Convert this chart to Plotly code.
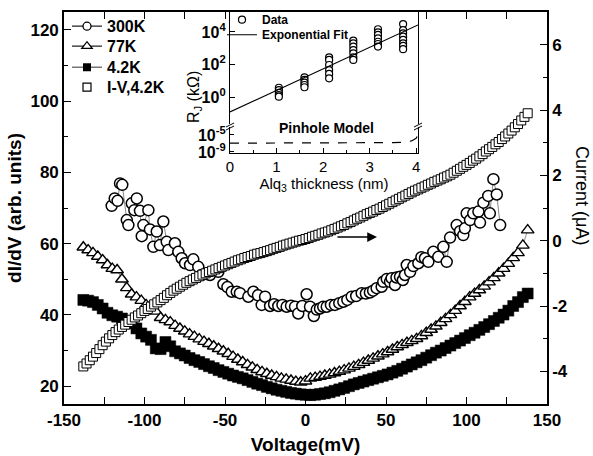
import plotly.graph_objects as go

FONT = "Liberation Sans, Arial, sans-serif"

# ---------------- main data ----------------
voltage = [-138, -135, -132, -129, -126, -123, -120, -117, -114, -111,
           -108, -105, -102, -99, -96, -93, -90, -87, -84, -81,
           -78, -75, -72, -69, -66, -63, -60, -57, -54, -51,
           -48, -45, -42, -39, -36, -33, -30, -27, -24, -21,
           -18, -15, -12, -9, -6, -3, 0, 3, 6, 9,
           12, 15, 18, 21, 24, 27, 30, 33, 36, 39,
           42, 45, 48, 51, 54, 57, 60, 63, 66, 69,
           72, 75, 78, 81, 84, 87, 90, 93, 96, 99,
           102, 105, 108, 111, 114, 117, 120, 123, 126, 129,
           132, 135, 138]

didv_4K = [44.2, 44.0, 43.6, 42.8, 41.8, 40.6, 39.9, 39.5, 39.0, 38.2,
           37.6, 36.2, 34.8, 33.9, 33.0, 30.6, 30.4, 32.4, 31.2, 29.8,
           29.2, 28.6, 27.9, 27.3, 26.8, 26.2, 25.6, 25.1, 24.5, 24.0,
           23.5, 23.0, 22.6, 22.2, 21.7, 21.2, 20.7, 20.3, 19.8, 19.4,
           19.0, 18.7, 18.4, 18.1, 17.9, 17.7, 17.6, 17.5, 17.6, 17.8,
           18.0, 18.3, 18.7, 19.1, 19.5, 20.0, 20.5, 20.9, 21.3, 21.7,
           22.1, 22.5, 22.9, 23.3, 23.8, 24.3, 24.9, 25.5, 26.1, 26.7,
           27.3, 28.0, 28.7, 29.4, 30.0, 30.7, 31.4, 32.1, 32.8, 33.5,
           34.3, 35.0, 35.8, 36.6, 37.4, 38.3, 39.2, 40.1, 41.2, 42.5,
           43.6, 45.0, 46.0]

didv_77K = [59.0, 58.2, 57.4, 56.4, 55.4, 54.0, 53.0, 52.6, 50.0, 47.6,
            45.8, 45.0, 44.0, 42.8, 42.0, 41.0, 39.2, 38.6, 38.0, 37.0,
            36.2, 35.4, 34.6, 33.9, 33.2, 32.5, 31.9, 31.2, 30.5, 29.8,
            29.1, 28.3, 27.5, 26.8, 26.0, 25.3, 24.6, 24.0, 23.5, 23.0,
            22.6, 22.2, 21.9, 21.6, 21.3, 21.1, 21.4, 22.2, 22.4, 22.7,
            23.0, 23.3, 23.7, 24.1, 24.5, 25.0, 25.5, 26.0, 26.6, 27.2,
            27.8, 28.4, 29.0, 29.6, 30.3, 31.0, 31.6, 32.2, 32.7, 33.3,
            34.1, 35.0, 35.9, 36.8, 37.8, 38.9, 40.0, 41.2, 42.5, 43.7,
            45.0, 46.0, 47.0, 48.0, 49.2, 50.4, 51.7, 53.0, 54.4, 56.0,
            57.4, 59.5, 63.8]

voltage_iv = [-138, -136, -134, -132, -130, -128, -126, -124, -122, -120,
              -118, -116, -114, -112, -110, -108, -106, -104, -102, -100,
              -98, -96, -94, -92, -90, -88, -86, -84, -82, -80,
              -78, -76, -74, -72, -70, -68, -66, -64, -62, -60,
              -58, -56, -54, -52, -50, -48, -46, -44, -42, -40,
              -38, -36, -34, -32, -30, -28, -26, -24, -22, -20,
              -18, -16, -14, -12, -10, -8, -6, -4, -2, 0,
              2, 4, 6, 8, 10, 12, 14, 16, 18, 20,
              22, 24, 26, 28, 30, 32, 34, 36, 38, 40,
              42, 44, 46, 48, 50, 52, 54, 56, 58, 60,
              62, 64, 66, 68, 70, 72, 74, 76, 78, 80,
              82, 84, 86, 88, 90, 92, 94, 96, 98, 100,
              102, 104, 106, 108, 110, 112, 114, 116, 118, 120,
              122, 124, 126, 128, 130, 132, 134, 136, 138]

current_4K = [-3.85, -3.76, -3.66, -3.55, -3.44, -3.32, -3.20, -3.09, -2.99, -2.89,
              -2.80, -2.72, -2.64, -2.57, -2.49, -2.42, -2.35, -2.29, -2.22, -2.15,
              -2.09, -2.02, -1.95, -1.89, -1.82, -1.75, -1.67, -1.60, -1.53, -1.47,
              -1.41, -1.35, -1.29, -1.24, -1.19, -1.14, -1.09, -1.04, -1.00, -0.96,
              -0.92, -0.88, -0.84, -0.80, -0.76, -0.72, -0.68, -0.64, -0.60, -0.57,
              -0.53, -0.50, -0.47, -0.43, -0.40, -0.38, -0.35, -0.32, -0.29, -0.25,
              -0.22, -0.19, -0.15, -0.12, -0.09, -0.06, -0.03, 0.00, 0.02, 0.05,
              0.08, 0.12, 0.15, 0.18, 0.22, 0.25, 0.28, 0.32, 0.36, 0.40,
              0.44, 0.48, 0.53, 0.57, 0.62, 0.67, 0.71, 0.76, 0.81, 0.85,
              0.89, 0.94, 0.98, 1.03, 1.08, 1.13, 1.18, 1.23, 1.28, 1.33,
              1.38, 1.43, 1.48, 1.53, 1.57, 1.62, 1.66, 1.71, 1.75, 1.80,
              1.84, 1.88, 1.93, 1.97, 2.02, 2.08, 2.14, 2.20, 2.26, 2.32,
              2.38, 2.45, 2.51, 2.58, 2.65, 2.73, 2.80, 2.87, 2.95, 3.02,
              3.11, 3.19, 3.28, 3.37, 3.47, 3.57, 3.68, 3.79, 3.90]

v_300K = [-120.4, -118.5, -116.7, -115.2, -113.8, -111.0, -110.0, -107.9, -106.3, -104.8,
          -102.8, -101.7, -100.7, -97.6, -96.6, -94.5, -92.4, -90.4, -88.3, -86.2,
          -85.2, -81.1, -79.0, -76.9, -74.8, -71.7, -69.7, -66.6, -64.5, -61.4,
          -59.3, -54.1, -51.0, -48.5, -45.8, -42.7, -40.7, -35.5, -32.4, -29.5,
          -27.2, -25.1, -22.0, -19.5, -16.9, -14.3, -11.7, -9.0, -6.5, -4.5,
          -2.0, 0.7, 2.8, 5.2, 7.0, 9.0, 11.0, 13.2, 15.8, 18.3,
          21.0, 23.5, 26.0, 28.7, 31.5, 34.9, 37.5, 40.0, 42.0, 44.2,
          47.3, 48.3, 50.5, 52.5, 53.5, 55.6, 56.5, 58.7, 60.5, 61.8,
          62.9, 65.0, 67.0, 70.1, 72.0, 74.2, 76.3, 79.4, 82.5, 85.6,
          87.7, 89.8, 93.9, 96.0, 98.0, 99.0, 100.1, 102.2, 104.2, 107.4,
          108.4, 110.5, 113.5, 114.5, 116.7, 118.8, 120.9]
didv_300K = [70.6, 72.7, 72.0, 76.9, 76.5, 66.6, 65.2, 71.3, 69.4, 72.7,
             69.2, 62.1, 65.2, 69.4, 64.0, 59.1, 63.4, 59.6, 66.2, 60.5,
             58.2, 60.1, 57.7, 55.9, 54.5, 54.0, 55.6, 53.5, 51.2, 51.5,
             51.2, 52.1, 48.6, 47.8, 46.5, 46.5, 46.1, 45.1, 46.5, 45.5,
             42.8, 45.1, 42.5, 43.0, 42.5, 42.8, 42.3, 42.6, 42.3, 40.4,
             42.5, 45.8, 42.3, 39.7, 41.5, 41.8, 42.3, 42.3, 42.8, 42.8,
             43.3, 43.7, 44.2, 45.1, 45.3, 46.1, 46.0, 46.3, 46.8, 47.5,
             47.9, 49.3, 50.1, 49.3, 50.3, 48.4, 50.5, 50.7, 49.8, 51.2,
             54.0, 52.1, 53.7, 54.5, 56.2, 55.9, 54.9, 57.7, 56.3, 59.1,
             54.9, 61.7, 65.2, 63.5, 62.4, 64.3, 68.5, 66.6, 68.5, 69.0,
             65.9, 71.5, 73.4, 68.5, 78.1, 73.8, 65.2]

# ---------------- inset data ----------------
thick_data = ([1.05] * 5 + [1.6] * 5 + [2.13] * 6 + [2.65] * 7 + [3.18] * 7 + [3.72] * 8)
log_rj_data = [0.57, 0.43, 0.26, 0.12, 0.02,
               1.21, 1.05, 0.88, 0.74, 0.60,
               2.44, 2.28, 1.97, 1.66, 1.42, 1.15,
               3.47, 3.30, 3.10, 2.89, 2.69, 2.44, 2.28,
               4.17, 3.98, 3.82, 3.61, 3.40, 3.26, 3.10,
               4.49, 4.12, 3.92, 3.71, 3.51, 3.30, 3.14, 2.94]
rj_data = [10 ** v for v in log_rj_data]
fit_thick = [0.0, 4.04]
fit_log_rj = [-0.92, 4.43]
fit_rj = [10 ** v for v in fit_log_rj]
pin_thick = [0.0, 1.0, 2.0, 3.0, 3.5, 3.75, 3.9, 4.0, 4.04]
pin_log_rj = [-6.92, -6.91, -6.90, -6.87, -6.8, -6.7, -6.4, -5.8, -5.0]
pin_rj = [10 ** v for v in pin_log_rj]

x_ticks = [-150, -100, -50, 0, 50, 100, 150]
y_ticks = [20, 40, 60, 80, 100, 120]
y2_ticks = [-4, -2, 0, 2, 4, 6]

# ---------------- figure ----------------
L, R, T, B = 64, 547, 12, 404
W, H = R - L, B - T


def pp(xp, yp):
    return (xp - L) / W, (B - yp) / H


fig = go.Figure()

fig.add_trace(go.Scatter(x=voltage, y=didv_4K, mode="lines+markers", showlegend=False,
                         line=dict(color="#444", width=0.6),
                         marker=dict(symbol="square", size=11, color="black",
                                     line=dict(color="black", width=0.5))))
fig.add_trace(go.Scatter(x=voltage, y=didv_77K, mode="lines+markers", showlegend=False,
                         line=dict(color="#444", width=0.6),
                         marker=dict(symbol="triangle-up", size=11, color="white",
                                     line=dict(color="black", width=1.4))))
fig.add_trace(go.Scatter(x=v_300K, y=didv_300K, mode="lines+markers", showlegend=False,
                         line=dict(color="#555", width=0.7),
                         marker=dict(symbol="circle", size=11, color="white",
                                     line=dict(color="black", width=1.5))))
fig.add_trace(go.Scatter(x=voltage_iv, y=current_4K, mode="markers", showlegend=False,
                         yaxis="y2",
                         marker=dict(symbol="square", size=9, color="white",
                                     line=dict(color="black", width=1.0))))

# legend proxies, one legend box per entry for exact spacing
fig.add_trace(go.Scatter(x=[None], y=[None], mode="lines+markers", name="300K",
                         legend="legend",
                         line=dict(color="#222", width=1.2),
                         marker=dict(symbol="circle", size=8, color="white",
                                     line=dict(color="black", width=1.3))))
fig.add_trace(go.Scatter(x=[None], y=[None], mode="lines+markers", name="77K",
                         legend="legend4",
                         line=dict(color="#222", width=1.2),
                         marker=dict(symbol="triangle-up", size=9, color="white",
                                     line=dict(color="black", width=1.3))))
fig.add_trace(go.Scatter(x=[None], y=[None], mode="lines+markers", name="4.2K",
                         legend="legend5",
                         line=dict(color="#777", width=1.6),
                         marker=dict(symbol="square", size=8, color="black")))
fig.add_trace(go.Scatter(x=[None], y=[None], mode="markers", name="I-V,4.2K",
                         legend="legend6",
                         marker=dict(symbol="square", size=8, color="white",
                                     line=dict(color="black", width=1.2))))

# inset traces
fig.add_trace(go.Scatter(x=thick_data, y=rj_data, mode="markers", name="Data",
                         xaxis="x3", yaxis="y3", legend="legend2",
                         marker=dict(symbol="circle", size=7, color="white",
                                     line=dict(color="black", width=1.2))))
fig.add_trace(go.Scatter(x=fit_thick, y=fit_rj, mode="lines", name="Exponential Fit",
                         xaxis="x3", yaxis="y3", legend="legend3",
                         line=dict(color="black", width=1.1)))
fig.add_trace(go.Scatter(x=pin_thick, y=pin_rj, mode="lines", showlegend=False,
                         xaxis="x3", yaxis="y4",
                         line=dict(color="black", width=1.2, dash="dash")))

tick_font = dict(family=FONT, size=17, color="black", weight="bold")
axis_common = dict(showline=True, linecolor="black", linewidth=1.6, ticks="inside",
                   tickcolor="black", tickwidth=1.3, showgrid=False, zeroline=False,
                   automargin=False)

ix0, _ = pp(230, 0)
ix1, _ = pp(418, 0)
_, iy3a = pp(0, 124)
_, iy4a = pp(0, 153)
_, iy4b = pp(0, 127)

main_leg_font = dict(family=FONT, size=16, color="black", weight="bold")
inset_leg_font = dict(family=FONT, size=12, color="black", weight="bold")


def leg_box(center_y, offset, font, x=0.0):
    top = center_y - offset
    return dict(x=x, y=1 - (top - T) / H, xanchor="left", yanchor="top",
                bgcolor="rgba(0,0,0,0)", itemwidth=30, font=font)


main_leg_x = 3 / W
inset_leg_x = (222 - L) / W

fig.update_layout(
    width=593, height=456,
    margin=dict(l=L, r=593 - R, t=T, b=456 - B, autoexpand=False),
    paper_bgcolor="white", plot_bgcolor="white",
    font=dict(family=FONT, color="black"),
    xaxis=dict(axis_common, range=[-150, 150], tickvals=x_ticks,
               ticktext=[str(v) for v in x_ticks], ticklen=7, mirror="allticks",
               minor=dict(dtick=25, ticklen=4, ticks="inside", tickcolor="black"),
               tickfont=tick_font,
               title=dict(text="Voltage(mV)", standoff=8,
                          font=dict(family=FONT, size=19, weight="bold"))),
    yaxis=dict(axis_common, range=[15, 125], tickvals=y_ticks, ticklen=7,
               minor=dict(dtick=10, ticklen=4, ticks="inside", tickcolor="black"),
               tickfont=tick_font,
               title=dict(text="dI/dV (arb. units)", standoff=4,
                          font=dict(family=FONT, size=19, weight="bold"))),
    yaxis2=dict(axis_common, overlaying="y", side="right", range=[-5, 7],
                tickvals=y2_ticks, ticktext=[str(v) for v in y2_ticks], ticklen=7,
                minor=dict(dtick=1, ticklen=4, ticks="inside", tickcolor="black"),
                tickfont=tick_font),
    xaxis3=dict(axis_common, domain=[ix0, ix1], anchor="y4", range=[0, 4.04],
                dtick=1, ticklen=5, linewidth=1.3,
                minor=dict(dtick=0.5, ticklen=3, ticks="inside", tickcolor="black"),
                tickfont=dict(family=FONT, size=15, color="black"),
                title=dict(text="Alq<sub>3</sub> thickness (nm)", standoff=2,
                           font=dict(family=FONT, size=15))),
    yaxis3=dict(axis_common, domain=[iy3a, 1.0], anchor="x3", type="log",
                range=[-1.66, 5.23], linewidth=1.3, mirror=True, ticklen=5,
                tickvals=[1, 100, 10000],
                ticktext=["10<sup>0</sup>", "10<sup>2</sup>", "10<sup>4</sup>"],
                tickfont=dict(family=FONT, size=16, color="black", weight="bold")),
    yaxis4=dict(axis_common, domain=[iy4a, iy4b], anchor="x3", type="log",
                range=[-9.24, -3.12], linewidth=1.3, mirror=True, ticklen=4,
                tickvals=[1e-9, 1e-5],
                ticktext=["10<sup>-9</sup>", "10<sup>-5</sup>"],
                tickfont=dict(family=FONT, size=16, color="black", weight="bold")),
    legend=leg_box(27, 17.7, main_leg_font, x=main_leg_x),
    legend4=leg_box(47, 17.7, main_leg_font, x=main_leg_x),
    legend5=leg_box(68, 17.7, main_leg_font, x=main_leg_x),
    legend6=leg_box(88, 17.7, main_leg_font, x=main_leg_x),
    legend2=leg_box(17, 11.8, inset_leg_font, x=inset_leg_x),
    legend3=leg_box(32, 11.8, inset_leg_font, x=inset_leg_x),
)

fig.add_annotation(x=pp(582, 0)[0], y=pp(0, 195)[1], xref="paper", yref="paper",
                   xanchor="center", yanchor="middle",
                   text="Current (\u03bcA)", textangle=90, showarrow=False,
                   font=dict(family=FONT, size=18, color="black"))
fig.add_annotation(x=pp(194, 0)[0], y=pp(0, 97)[1], xref="paper", yref="paper",
                   xanchor="center", yanchor="middle",
                   text="R<sub>J</sub> (k\u03a9)", textangle=-90, showarrow=False,
                   font=dict(family=FONT, size=16, color="black"))
fig.add_annotation(x=pp(326, 0)[0], y=pp(0, 128)[1], xref="paper", yref="paper",
                   xanchor="center", yanchor="middle",
                   text="Pinhole Model", showarrow=False,
                   font=dict(family=FONT, size=14, color="black", weight="bold"))
fig.add_annotation(x=44.4, y=0.11, xref="x", yref="y2", ax=18.9, ay=0.11,
                   axref="x", ayref="y2", text="", showarrow=True,
                   arrowhead=2, arrowsize=1.3, arrowwidth=1.5, arrowcolor="black")

for xb in (230, 418):
    for dy in (0, 3):
        x0, y0 = pp(xb - 4, 127 + dy)
        x1, y1 = pp(xb + 4, 123 + dy)
        fig.add_shape(type="line", xref="paper", yref="paper", x0=x0, y0=y0, x1=x1, y1=y1,
                      line=dict(color="black", width=1))

fig.write_html("out.html", config={"displayModeBar": False},
               post_script="document.body.style.margin='0';"
                           "document.body.style.overflow='hidden';")
